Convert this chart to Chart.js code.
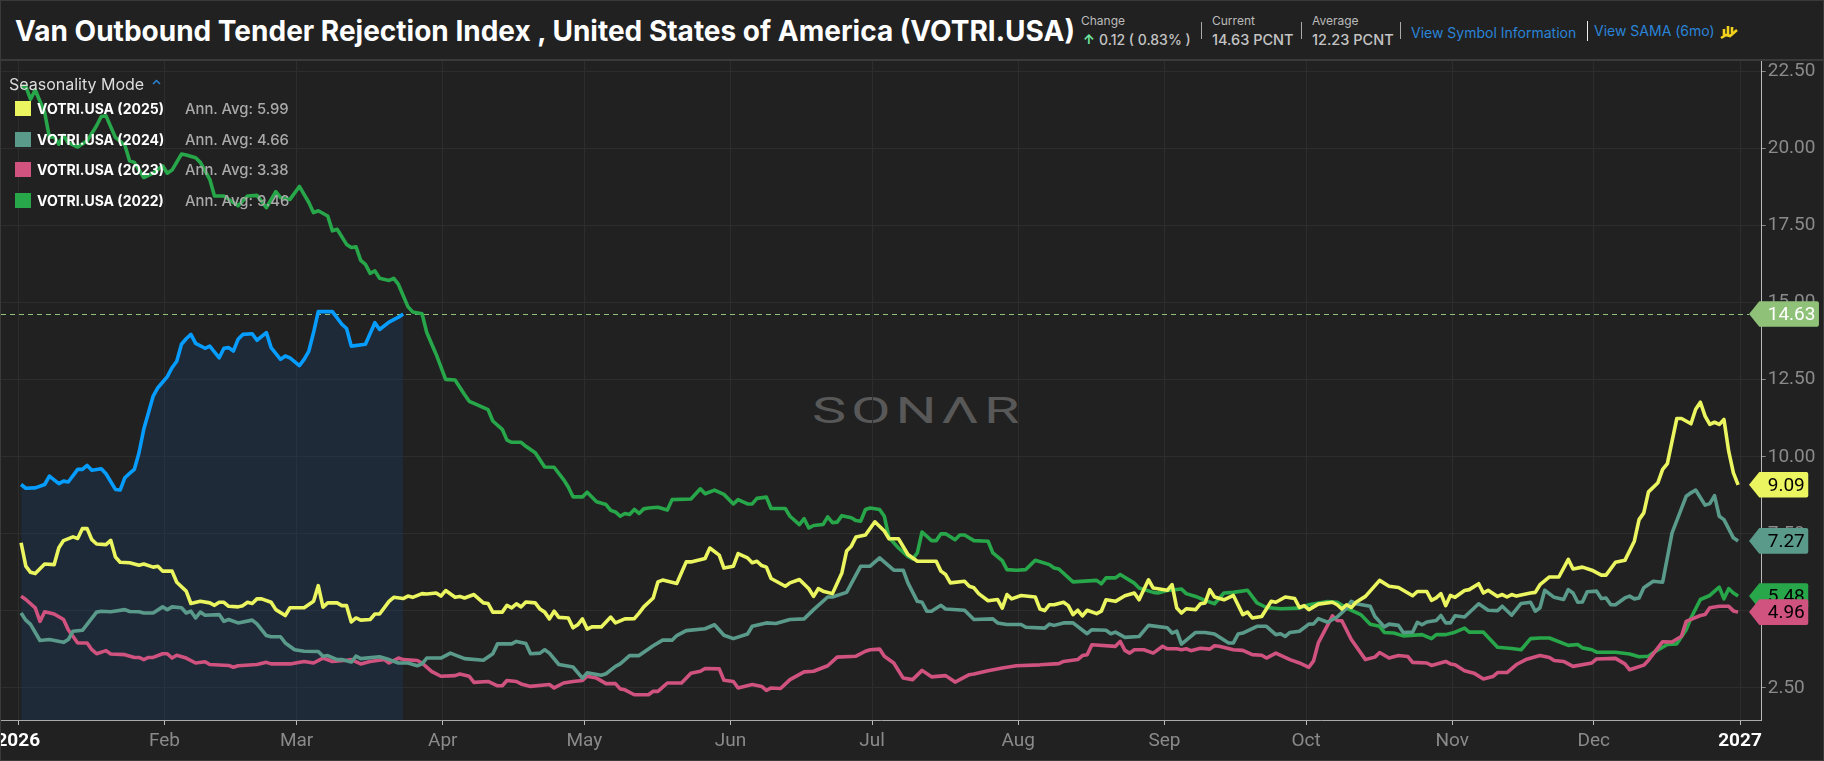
<!DOCTYPE html>
<html>
<head>
<meta charset="utf-8">
<script src="https://cdn.jsdelivr.net/npm/chart.js@4/dist/chart.umd.js"></script>
<style>
html,body{margin:0;padding:0;background:#212121;width:1824px;height:761px;overflow:hidden;font-family:Inter,Roboto,sans-serif}
#wrap{position:relative;width:1824px;height:761px;background:#212121}
#chart{position:absolute;left:0;top:0;z-index:2}
#frame{position:absolute;left:0;top:0;width:1822px;height:759px;border:1px solid #3a3a3a;z-index:5;pointer-events:none}
#head{position:absolute;left:1px;top:1px;width:1822px;height:58px;border-bottom:2px solid #3a3a3a;background:#212121;z-index:4}
.t{position:absolute;white-space:nowrap;line-height:1}
.sep{position:absolute;width:1px;background:#aaa}
svg{display:block}
#mark{position:absolute;left:812px;top:393px;font:400 36px Roboto,sans-serif;letter-spacing:3px;color:#585858;z-index:1;line-height:1;white-space:nowrap;transform:scaleX(1.6);transform-origin:left center}
.sw{position:absolute;left:15px;width:16px;height:15px}
</style>
</head>
<body>
<div id="wrap">
<div id="mark">SONΛR</div>
<canvas id="chart" width="1824" height="761"></canvas>
<div id="head"></div>
<div id="frame"></div>
<div id="over"></div>
</div>
<script>
const seriesNames = ['VOTRI.USA (2025)','VOTRI.USA (2024)','VOTRI.USA (2023)','VOTRI.USA (2022)'];
const annualAverages = ['5.99','4.66','3.38','9.46'];
const seriesColors = ['#ebf55f','#5a9a8b','#d0527f','#27a64a'];
const currentColor = '#069dff';
const monthLabels = ['2026','Feb','Mar','Apr','May','Jun','Jul','Aug','Sep','Oct','Nov','Dec','2027'];
const monthStartDays = [0,31,59,90,120,151,181,212,243,273,304,334,365];
const yTickValues = [2.5,5,7.5,10,12.5,15,17.5,20,22.5];
const latestValue = 14.63;

const days2026 = [0,1,3,5,6,8,9,10,12,13,14,15,17,18,20,21,22,23,24,25,26,27,28,29,31,32,33,34,35,36,37,39,40,42,43,44,45,46,47,49,50,52,53,55,56,57,59,60,61,62,63,66,68,69,70,73,75,76,78,80,81];
const values2026 = [9.1,8.98,8.99,9.1,9.37,9.13,9.21,9.18,9.59,9.59,9.72,9.56,9.61,9.45,8.94,8.92,9.32,9.46,9.59,10.13,10.89,11.43,11.97,12.24,12.6,12.89,13.1,13.65,13.83,13.97,13.68,13.52,13.59,13.21,13.52,13.54,13.43,13.81,13.97,13.99,13.78,14.03,13.54,13.16,13.27,13.21,12.96,13.16,13.43,14.03,14.71,14.71,14.3,14.16,13.59,13.65,14.35,14.13,14.37,14.53,14.63];

const days2025 = [0,1,2,3,5,7,8,9,11,12,13,14,15,16,18,19,20,21,23,25,26,28,29,30,32,33,35,36,38,40,41,42,43,44,46,47,48,49,50,51,53,54,56,57,60,62,63,64,65,67,68,69,70,71,72,74,75,76,78,79,81,82,83,85,86,88,89,90,
92,93,94,96,98,99,100,102,103,104,105,106,107,109,110,111,112,113,114,116,117,118,119,120,121,123,125,126,128,130,131,132,134,135,136,139,141,142,145,146,148,149,151,152,154,155,156,157,158,159,162,163,165,167,168,169,170,172,174,175,176,177,179,181,183,184,186,188,190,194,195,196,197,200,201,202,203,205,207,
208,209,210,212,215,216,217,218,219,221,222,223,224,225,226,228,229,230,232,234,236,237,239,240,243,244,245,246,247,249,250,251,252,253,255,257,259,260,261,263,265,266,268,270,271,272,273,275,278,279,280,281,282,283,285,288,290,292,295,296,298,299,300,301,302,303,304,306,307,309,310,311,313,
314,315,316,317,320,321,322,324,326,328,329,331,333,335,336,338,340,342,343,344,345,347,348,349,351,352,354,355,356,357,358,359,360,361,362,363,364];
const values2025 = [7.21,6.45,6.25,6.21,6.52,6.5,7.05,7.28,7.4,7.35,7.67,7.67,7.31,7.17,7.15,7.29,6.75,6.58,6.56,6.48,6.52,6.42,6.45,6.29,6.29,5.93,5.64,5.24,5.31,5.26,5.18,5.28,5.28,5.15,5.13,5.17,5.28,5.24,5.39,5.39,5.28,5.04,4.85,5.1,5.1,5.31,5.82,5.12,5.26,5.26,5.17,5.17,4.64,4.77,4.7,4.72,4.9,4.9,5.31,5.44,5.4,5.48,5.44,5.56,5.55,5.58,5.48,5.66,
5.44,5.47,5.42,5.53,5.26,5.24,4.96,4.96,5.18,5.1,5.23,5.13,5.29,5.26,5.06,4.96,4.74,4.99,4.79,4.77,4.45,4.55,4.74,4.41,4.48,4.48,4.8,4.61,4.74,4.75,4.93,5.13,5.42,5.94,6.0,5.89,6.59,6.59,6.7,7.04,6.81,6.39,6.45,6.86,6.72,6.56,6.61,6.47,6.42,6.05,5.8,5.91,6.02,5.72,5.47,5.72,5.64,5.56,6.23,6.94,7.1,7.4,7.46,7.89,7.59,7.34,7.34,6.83,6.61,6.61,6.29,6.18,5.91,5.96,5.8,5.75,5.56,5.33,5.37,
5.09,5.53,5.39,5.5,5.45,5.06,5.01,5.2,5.2,5.28,5.17,4.88,5.02,4.84,5.02,4.91,4.99,5.36,5.31,5.49,5.58,5.36,6.01,5.74,5.67,5.85,5.09,4.93,5.07,5.04,5.23,5.26,5.69,5.45,5.36,5.5,4.88,4.96,4.77,4.82,5.31,5.28,5.45,5.4,5.11,5.17,5.04,5.22,5.28,5.2,5.06,5.2,5.11,5.28,5.47,5.99,5.8,5.76,5.49,5.63,5.63,5.34,5.42,5.56,5.17,5.5,5.44,5.66,5.69,5.88,5.58,5.67,5.47,
5.53,5.45,5.53,5.48,5.58,5.6,5.85,6.1,6.1,6.67,6.36,6.42,6.32,6.16,6.16,6.58,6.64,7.26,7.96,8.18,8.86,9.16,9.59,9.78,11.24,11.24,11.07,11.54,11.77,11.32,11.05,11.12,11.05,11.21,10.18,9.48,9.09];

const days2024 = [0,1,2,4,6,9,10,11,13,16,17,19,22,23,25,26,28,30,31,32,34,35,36,37,38,39,42,43,44,46,49,50,52,53,55,56,58,60,63,64,65,67,68,70,71,72,76,78,80,82,84,85,86,
89,91,94,98,100,101,104,105,107,108,110,111,112,114,117,119,120,123,124,126,127,129,131,134,136,138,139,141,145,147,149,151,154,155,158,160,163,166,168,171,172,175,178,180,182,185,187,188,190,191,192,193,195,196,200,202,
206,207,209,212,213,217,218,219,221,223,226,227,230,231,232,234,237,239,243,244,245,246,249,251,253,256,257,258,259,262,264,266,267,268,269,271,273,274,275,277,279,281,282,283,286,287,289,290,292,293,295,296,297,298,300,301,302,303,304,306,309,311,313,
314,316,318,320,321,322,323,325,327,328,329,330,331,332,334,335,336,337,338,340,341,342,343,344,346,348,350,353,354,355,357,358,359,360,361,363,364];
const values2024 = [4.93,4.7,4.56,4.04,4.07,3.98,4.07,4.34,4.37,4.96,4.99,4.97,5.04,4.98,4.97,4.93,4.93,5.13,5.04,5.13,5.1,4.93,4.99,4.77,4.96,4.86,4.88,4.66,4.72,4.61,4.7,4.58,4.2,4.16,4.16,3.96,3.74,3.69,3.68,3.53,3.55,3.42,3.42,3.34,3.53,3.45,3.51,3.42,3.31,3.31,3.22,3.28,3.47,
3.47,3.63,3.45,3.4,3.61,3.93,3.93,4.01,3.94,3.61,3.63,3.74,3.63,3.26,3.18,2.82,2.99,2.91,2.96,3.2,3.28,3.55,3.55,3.87,4.05,4.05,4.2,4.36,4.42,4.55,4.21,4.1,4.25,4.5,4.61,4.59,4.72,4.74,5.04,5.45,5.45,5.6,6.45,6.45,6.72,6.32,6.32,5.91,5.31,5.28,4.99,4.99,5.18,5.06,5.02,4.72,
4.74,4.61,4.56,4.56,4.47,4.44,4.57,4.53,4.61,4.61,4.26,4.39,4.37,4.26,4.31,4.14,4.17,4.53,4.45,4.28,4.34,3.92,4.3,4.3,4.25,3.96,3.96,4.25,4.28,4.5,4.5,4.23,4.26,4.17,4.3,4.34,4.57,4.58,4.75,4.63,4.8,5.09,5.31,5.23,5.15,4.82,4.48,4.57,4.53,4.3,4.31,4.63,4.55,4.64,4.69,4.85,4.61,4.61,4.84,4.8,5.23,5.02,5.01,
5.15,4.86,5.24,5.28,4.99,5.1,5.67,5.44,5.37,5.69,5.58,5.28,5.29,5.62,5.64,5.4,5.42,5.2,5.2,5.42,5.48,5.39,5.42,5.75,5.96,5.93,7.53,8.72,8.83,8.92,8.43,8.48,8.74,8.07,7.96,7.37,7.27];

const days2023 = [0,1,3,4,5,7,9,10,12,14,15,16,18,19,22,24,25,26,27,28,30,31,32,33,35,37,39,40,44,45,46,50,52,53,57,60,62,64,66,69,70,72,74,77,78,80,81,84,85,87,
89,92,93,95,96,99,101,102,103,105,106,108,112,113,115,117,119,120,122,124,126,127,128,130,133,134,135,137,140,142,144,145,148,149,151,152,155,157,158,159,161,163,166,168,171,173,177,179,180,182,183,185,187,189,191,193,196,198,201,202,205,
208,211,216,220,221,224,225,226,227,232,233,234,235,236,238,240,242,243,245,246,247,248,250,252,253,254,257,259,261,263,264,266,269,271,273,274,275,278,279,280,282,285,287,288,290,292,294,295,298,299,302,303,304,306,308,310,312,313,
315,317,319,322,324,325,327,329,333,334,338,340,341,344,345,348,350,352,353,356,357,358,360,362,363,364];
const values2023 = [5.48,5.37,5.1,4.66,4.97,4.9,4.72,4.39,3.96,3.96,3.74,3.61,3.71,3.6,3.58,3.49,3.49,3.42,3.49,3.49,3.61,3.61,3.47,3.56,3.47,3.31,3.35,3.26,3.23,3.17,3.22,3.26,3.33,3.28,3.28,3.36,3.31,3.47,3.36,3.4,3.42,3.28,3.36,3.42,3.31,3.47,3.42,3.39,3.31,3.04,
2.88,2.9,2.95,2.88,2.68,2.71,2.57,2.57,2.74,2.71,2.63,2.55,2.61,2.5,2.66,2.71,2.74,2.88,2.82,2.64,2.64,2.47,2.44,2.28,2.28,2.39,2.39,2.66,2.66,2.98,3.04,3.13,3.12,2.75,2.71,2.5,2.61,2.55,2.42,2.5,2.48,2.77,3.02,3.04,3.22,3.5,3.53,3.69,3.74,3.76,3.53,3.31,2.82,2.77,3.07,2.86,2.9,2.69,2.93,2.95,3.06,
3.15,3.22,3.25,3.29,3.36,3.42,3.55,3.58,3.9,3.85,4.01,3.72,3.63,3.74,3.74,3.63,3.85,3.77,3.77,3.74,3.77,3.71,3.79,3.76,3.87,3.85,3.74,3.72,3.58,3.56,3.47,3.63,3.42,3.31,3.17,3.38,3.96,4.84,4.69,4.68,4.07,3.42,3.5,3.65,3.47,3.55,3.52,3.33,3.31,3.23,3.36,3.28,3.25,3.06,2.98,2.79,2.87,3.0,
3.0,3.26,3.42,3.55,3.49,3.39,3.36,3.2,3.31,3.44,3.46,3.28,3.09,3.24,3.4,4.0,3.99,4.18,4.66,4.85,4.88,5.1,5.15,5.15,5.0,4.96];

const days2022 = [0,1,2,3,5,6,7,8,9,10,12,14,16,17,18,20,22,23,24,26,28,30,31,32,34,35,37,38,40,41,43,46,48,50,52,54,55,57,59,61,62,63,65,66,67,69,70,71,72,73,74,75,76,78,79,80,82,83,85,86,88,90,92,94,95,
96,99,100,102,103,104,106,107,109,111,113,115,116,117,119,120,122,124,125,126,127,128,129,130,131,132,133,135,137,138,142,144,145,147,149,151,152,154,155,156,158,159,162,163,165,166,167,168,170,171,172,173,174,176,177,178,179,180,182,183,184,185,186,188,189,190,191,192,193,194,195,196,198,199,200,202,205,206,
208,209,211,213,215,218,219,220,223,228,229,230,232,233,236,237,240,241,243,246,247,249,251,253,255,257,260,262,264,267,271,273,277,279,281,284,286,288,289,291,293,297,299,300,302,304,306,307,310,313,
316,318,320,322,324,328,330,331,333,334,338,341,343,345,346,349,351,353,354,356,358,360,361,362,363,364];
const values2022 = [22.01,22.01,21.6,21.9,21.17,20.36,20.39,20.14,20.43,20.19,20.05,20.25,20.74,21.04,21.06,20.36,20.11,19.6,19.55,19.06,19.2,19.44,19.2,19.3,19.82,19.79,19.7,19.55,19.0,18.46,18.46,18.14,18.46,18.48,18.08,18.6,18.41,18.35,18.77,18.25,17.92,17.98,17.81,17.33,17.38,16.89,16.79,16.81,16.37,16.24,15.95,16.03,15.79,15.72,15.79,15.59,14.87,14.7,14.64,14.03,13.32,12.51,12.49,12.02,11.8,
11.73,11.53,11.16,10.89,10.54,10.47,10.47,10.34,10.13,9.67,9.66,9.26,9.02,8.7,8.7,8.85,8.54,8.45,8.26,8.21,8.07,8.16,8.13,8.29,8.16,8.31,8.34,8.36,8.27,8.61,8.63,8.96,8.8,8.92,8.78,8.47,8.61,8.47,8.47,8.65,8.69,8.32,8.32,8.07,7.8,7.99,7.69,7.77,7.8,8.05,7.86,7.88,8.09,8.02,7.93,7.91,8.29,8.34,8.29,8.07,7.37,7.21,7.04,6.77,6.69,6.88,7.56,7.42,7.28,7.28,7.5,7.5,7.31,7.46,7.46,7.28,7.26,6.88,
6.63,6.34,6.32,6.34,6.64,6.5,6.39,6.36,5.94,5.99,5.88,6.07,6.07,6.18,5.9,5.74,5.6,5.58,5.66,5.71,5.56,5.47,5.34,5.23,5.58,5.6,5.67,5.26,5.11,5.07,5.09,5.2,5.3,5.28,5.09,4.88,4.57,4.5,4.3,4.28,4.19,4.23,4.1,4.23,4.23,4.31,4.44,4.31,4.31,3.82,
3.78,3.74,4.1,4.12,4.12,3.88,3.91,3.8,3.74,3.66,3.66,3.6,3.51,3.53,3.64,3.91,3.93,4.39,4.77,5.37,5.5,5.77,5.39,5.72,5.58,5.48];

// Build header and legend
const over = document.getElementById('over');
function addText(parent, txt, left, top, css){
  const d = document.createElement('div'); d.className='t'; d.textContent=txt;
  d.style.cssText = `left:${left}px;top:${top}px;z-index:6;${css}`;
  parent.appendChild(d); return d;
}
function addSep(left, top, h, col){
  const d=document.createElement('div'); d.className='sep';
  d.style.cssText=`left:${left}px;top:${top}px;height:${h}px;z-index:6;background:${col||'#aaa'}`;
  over.appendChild(d);
}
addText(over,'Van Outbound Tender Rejection Index , United States of America (VOTRI.USA)',15,14,'font:700 28px Inter,sans-serif;color:#fff;');
addText(over,'Change',1081,13,'font:400 12px Inter,sans-serif;color:#bbb;');
addText(over,'↑',1083,31,'font:700 13px Inter,sans-serif;color:#6fe7a0;');
addText(over,'0.12 ( 0.83% )',1099,31,'font:500 14px Inter,sans-serif;color:#c4c4c4;');
addSep(1201,22,17);
addText(over,'Current',1212,13,'font:400 12px Inter,sans-serif;color:#bbb;');
addText(over,'14.63 PCNT',1212,31,'font:500 14.5px Inter,sans-serif;color:#c4c4c4;');
addSep(1301,22,17);
addText(over,'Average',1312,13,'font:400 12px Inter,sans-serif;color:#bbb;');
addText(over,'12.23 PCNT',1312,31,'font:500 14.5px Inter,sans-serif;color:#c4c4c4;');
addSep(1400,22,17);
addText(over,'View Symbol Information',1411,24,'font:400 14px Inter,sans-serif;color:#2a84d8;');
addSep(1587,21,20,'#eee');
addText(over,'View SAMA (6mo)',1594,22,'font:400 14px Inter,sans-serif;color:#2a84d8;');
const icon=document.createElement('div');
icon.style.cssText='position:absolute;left:1720px;top:24px;z-index:6';
icon.innerHTML='<svg width="18" height="16" viewBox="0 0 18 16"><g fill="none" stroke="#f2d21b" stroke-width="2.6"><path d="M1 14l5-3 4 1 7-6"/><path d="M4 11V5M8 11V2M12 9V3"/></g></svg>';
over.appendChild(icon);

addText(over,'Seasonality Mode',9,74,'font:400 16px Inter,sans-serif;color:#ddd;');
const chev=document.createElement('div');
chev.style.cssText='position:absolute;left:152px;top:79px;z-index:6';
chev.innerHTML='<svg width="9" height="6" viewBox="0 0 9 6"><path d="M1 5l3.5-3.5L8 5" fill="none" stroke="#2a84d8" stroke-width="1.5"/></svg>';
over.appendChild(chev);
const legendTops=[101,132,162,193];
seriesNames.forEach((n,i)=>{
  const s=document.createElement('div'); s.className='sw';
  s.style.cssText=`top:${legendTops[i]}px;background:${seriesColors[i]};z-index:6`;
  over.appendChild(s);
  addText(over,n,37,legendTops[i]-1,'font:700 14px Inter,sans-serif;color:#fff;');
  addText(over,'Ann. Avg: '+annualAverages[i],185,legendTops[i]-1,'font:500 14.8px Inter,sans-serif;color:#aaa;');
});

// Map the reference's pixel grid onto the axis ranges
const tickShift = 0.6;
const xTicks = monthStartDays.map(d=>d-tickShift);
const zip=(xs,ys)=>xs.map((x,i)=>({x,y:ys[i]}));
function ds(label,xs,ys,color,extra){
  return Object.assign({label,data:zip(xs,ys),borderColor:color,borderWidth:3.6,pointRadius:0,tension:0,borderJoinStyle:'round',fill:false},extra||{});
}
const tagPlugin={
  id:'tags',
  beforeDatasetsDraw(c){
    const y=c.scales.y.getPixelForValue(latestValue), g=c.ctx;
    g.save(); g.strokeStyle='#8fc278'; g.lineWidth=1; g.setLineDash([5,4]);
    g.beginPath(); g.moveTo(1,Math.round(y)+.5); g.lineTo(1749,Math.round(y)+.5); g.stroke(); g.restore();
  },
  afterDraw(c){
    const g=c.ctx, sc=c.scales.y;
    const tags=[[latestValue,'#8fc278','#fff'],
      [values2025[values2025.length-1],seriesColors[0],'#000'],
      [values2024[values2024.length-1],seriesColors[1],'#000'],
      [values2022[values2022.length-1],seriesColors[3],'#000'],
      [values2023[values2023.length-1],seriesColors[2],'#000']];
    g.save();
    g.font='400 19px Roboto,sans-serif'; g.textBaseline='middle'; g.textAlign='left';
    tags.forEach(([v,bg,fg])=>{
      const y=sc.getPixelForValue(v), txt=v.toFixed(2), r=1767.7+g.measureText(txt).width+3.5, h=12.8;
      g.fillStyle=bg; g.beginPath();
      g.moveTo(1749,y); g.lineTo(1759.3,y-h); g.lineTo(r-2,y-h); g.quadraticCurveTo(r,y-h,r,y-h+2);
      g.lineTo(r,y+h-2); g.quadraticCurveTo(r,y+h,r-2,y+h); g.lineTo(1759.3,y+h); g.closePath(); g.fill();
      g.fillStyle=fg; g.fillText(txt,1767.7,y+1);
    });
    g.restore();
  }
};
new Chart(document.getElementById('chart'),{
  type:'line',
  data:{datasets:[
    ds('Current (2026)',days2026,values2026,currentColor,{fill:'start',backgroundColor:'rgba(23,63,110,0.3)'}),
    ds(seriesNames[0],days2025,values2025,seriesColors[0]),
    ds(seriesNames[1],days2024,values2024,seriesColors[1]),
    ds(seriesNames[2],days2023,values2023,seriesColors[2]),
    ds(seriesNames[3],days2022,values2022,seriesColors[3])
  ]},
  plugins:[tagPlugin],
  options:{
    responsive:false,animation:false,devicePixelRatio:1,
    layout:{padding:{top:61,left:1,right:0,bottom:0}},
    plugins:{legend:{display:false},tooltip:{enabled:false},filler:{drawTime:'beforeDatasetsDraw'}},
    scales:{
      x:{type:'linear',position:'bottom',min:-4.26,max:369.0,
        afterBuildTicks(s){s.ticks=xTicks.map(v=>({value:v}));},
        afterFit(s){s.height=41;s.paddingLeft=0;s.paddingRight=0;},
        grid:{color:'#2d2d2d',lineWidth:1,tickLength:5,tickColor:'#bbb',drawTicks:true},
        border:{color:'#aaa',width:1},
        ticks:{autoSkip:false,maxRotation:0,minRotation:0,padding:5,
          callback(v,i){return monthLabels[i];},
          color(ctx){const i=ctx.index;return (i===0||i===monthLabels.length-1)?'#fff':'#8a8a8a';},
          font(ctx){const i=ctx.index;return {family:'Roboto',size:19,weight:(i===0||i===monthLabels.length-1)?'700':'400'};}
        }
      },
      y:{type:'linear',position:'right',min:1.46,max:22.84,
        afterBuildTicks(s){s.ticks=yTickValues.map(v=>({value:v}));},
        afterFit(s){s.width=62.3;},
        grid:{color:'#2d2d2d',lineWidth:1,tickLength:4,tickColor:'#888',drawTicks:true},
        border:{color:'#bbb',width:1},
        ticks:{padding:2,color:'#8a8a8a',font:{family:'Roboto',size:19,weight:'400'},
          callback(v){return Number(v).toFixed(2);}
        }
      }
    }
  }
});
</script>
</body>
</html>
